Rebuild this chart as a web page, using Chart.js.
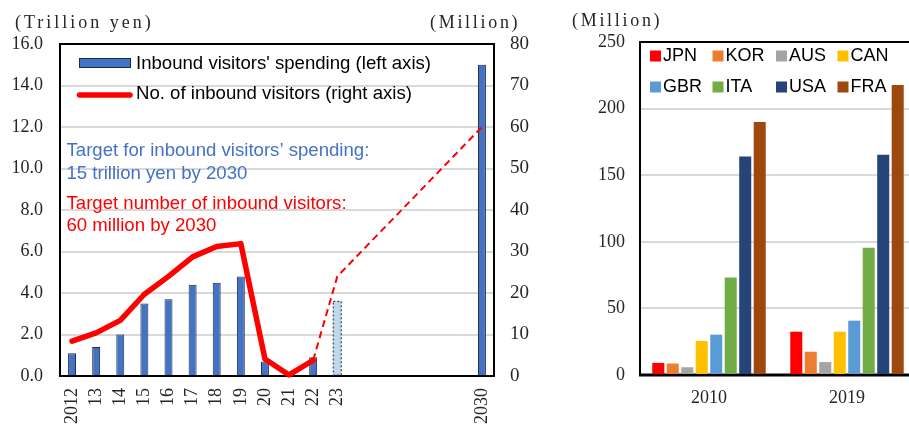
<!DOCTYPE html>
<html>
<head>
<meta charset="utf-8">
<script src="https://cdn.jsdelivr.net/npm/chart.js@4.4.1/dist/chart.umd.min.js"></script>
<style>
  html, body { margin: 0; padding: 0; background: #fff; }
  #page { position: absolute; left: 0; top: 0; width: 909px; height: 428px; overflow: hidden; background: #fff; }
  #spendCanvas { position: absolute; left: 0; top: 0; }
  #arrBox { position: absolute; left: 560px; top: 0; width: 349px; height: 428px; overflow: hidden; }
  #arrCanvas { position: absolute; left: 0; top: 0; }
  .unit { position: absolute; font: 18px "Liberation Serif", serif; color: #262626; line-height: 20px; white-space: nowrap; }
</style>
</head>
<body>
<div id="page">
  <canvas id="spendCanvas" width="540" height="428"></canvas>
  <div id="arrBox"><canvas id="arrCanvas" width="380" height="428"></canvas></div>
  <div class="unit" style="left:15px; top:12px; letter-spacing:3px;">(Trillion yen)</div>
  <div class="unit" style="left:430px; top:12px; letter-spacing:2.7px;">(Million)</div>
  <div class="unit" style="left:572px; top:10px; letter-spacing:2.7px;">(Million)</div>
</div>
<script>
// ---- Inbound tourism to Japan (left panel) ----
const yearLabels = ['2012', '13', '14', '15', '16', '17', '18', '19', '20', '21', '22', '23', '', '', '', '', '', '2030'];
// Inbound visitors' spending, trillion yen (2023 = estimate, 2030 = target)
const spendingTrillionYen = [1.1, 1.4, 2.0, 3.5, 3.7, 4.4, 4.5, 4.8, 0.7, 0.1, 0.9, 3.6, null, null, null, null, null, 15.0];
// Number of inbound visitors, million (actual)
const visitorsMillion = [8.4, 10.4, 13.4, 19.7, 24.0, 28.7, 31.2, 31.9, 4.1, 0.25, 3.8, null, null, null, null, null, null, null];
// Number of inbound visitors, million (2022 -> 2023 -> 2030 target path)
const visitorsOutlookMillion = [null, null, null, null, null, null, null, null, null, null, 3.8, 24.0, null, null, null, null, null, 60];
const estimateYearLabel = '23';
const spendingAxis = { min: 0, max: 16, step: 2 };
const visitorAxis = { min: 0, max: 80, step: 10 };

// ---- International tourist arrivals by country (right panel) ----
const countries = ['JPN', 'KOR', 'AUS', 'CAN', 'GBR', 'ITA', 'USA', 'FRA'];
const periods = ['2010', '2019'];
const arrivals2010 = [9.1, 8.6, 5.8, 25.5, 30.3, 73.2, 164.0, 190.0];
const arrivals2019 = [32.5, 17.5, 9.7, 32.5, 40.8, 95.5, 165.3, 217.8];
const countryColors = ['#FF0000', '#ED7D31', '#A5A5A5', '#FFC000', '#5B9BD5', '#70AD47', '#264478', '#9E480E'];
const arrivalsAxis = { min: 0, max: 250, step: 50 };

Chart.defaults.font.family = '"Liberation Serif", serif';
Chart.defaults.color = '#262626';
Chart.defaults.animation = false;

const tickFont = { family: '"Liberation Serif", serif', size: 18 };
const noteFont = '18.6px "Liberation Sans", Arial, sans-serif';
const legendFont = '18px "Liberation Sans", Arial, sans-serif';
const gridColor = '#D9D9D9';

// Closed frame around the plot area, above grid lines and below the marks
const boxFrame = {
  id: 'boxFrame',
  beforeDatasetsDraw(chart) {
    const { ctx, chartArea: a } = chart;
    ctx.save();
    ctx.strokeStyle = '#000';
    ctx.lineWidth = 2;
    ctx.strokeRect(a.left, a.top, a.right - a.left, a.bottom - a.top);
    ctx.restore();
  }
};

// Open frame: top, left and bottom edges only
const openFrame = {
  id: 'openFrame',
  beforeDatasetsDraw(chart) {
    const { ctx, chartArea: a } = chart;
    ctx.save();
    ctx.strokeStyle = '#000';
    ctx.lineWidth = 2;
    ctx.beginPath();
    ctx.moveTo(a.right, a.top);
    ctx.lineTo(a.left, a.top);
    ctx.lineTo(a.left, a.bottom);
    ctx.stroke();
    ctx.lineWidth = 3;
    ctx.beginPath();
    ctx.moveTo(a.left - 1, a.bottom);
    ctx.lineTo(a.right, a.bottom);
    ctx.stroke();
    ctx.restore();
  }
};

// Dotted outline for the estimated-year bar
const estimateOutline = {
  id: 'estimateOutline',
  afterDatasetDraw(chart, args) {
    if (args.index !== 0) return;
    const idx = chart.data.labels.indexOf(estimateYearLabel);
    const el = args.meta.data[idx];
    if (!el) return;
    const { x, y, base, width } = el.getProps(['x', 'y', 'base', 'width'], true);
    const ctx = chart.ctx;
    ctx.save();
    ctx.strokeStyle = '#404040';
    ctx.lineWidth = 1.2;
    ctx.setLineDash([2, 2]);
    ctx.strokeRect(x - width / 2, y, width, base - y);
    ctx.restore();
  }
};

// Legend and target notes inside the spending plot
const spendNotes = {
  id: 'spendNotes',
  afterDraw(chart) {
    const { ctx, chartArea: a } = chart;
    const L = a.left;
    ctx.save();
    ctx.font = noteFont;
    ctx.textBaseline = 'middle';
    ctx.textAlign = 'left';
    // legend: bars
    ctx.fillStyle = '#4472C4';
    ctx.strokeStyle = '#1F2A44';
    ctx.lineWidth = 1;
    ctx.fillRect(L + 19.5, 58.5, 51, 9);
    ctx.strokeRect(L + 19.5, 58.5, 51, 9);
    ctx.fillStyle = '#000';
    ctx.fillText("Inbound visitors' spending (left axis)", L + 76, 63.5);
    // legend: line
    ctx.strokeStyle = '#FF0000';
    ctx.lineWidth = 5.5;
    ctx.lineCap = 'round';
    ctx.beginPath();
    ctx.moveTo(L + 19.5, 95);
    ctx.lineTo(L + 70, 95);
    ctx.stroke();
    ctx.fillText('No. of inbound visitors (right axis)', L + 76, 94);
    // targets
    ctx.fillStyle = '#4472C4';
    ctx.fillText('Target for inbound visitors\u2019 spending:', L + 6.5, 150.5);
    ctx.fillText('15 trillion yen by 2030', L + 6.5, 173.5);
    ctx.fillStyle = '#FF0000';
    ctx.fillText('Target number of inbound visitors:', L + 6.5, 203.5);
    ctx.fillText('60 million by 2030', L + 6.5, 226);
    ctx.restore();
  }
};

new Chart(document.getElementById('spendCanvas'), {
  data: {
    labels: yearLabels,
    datasets: [
      {
        type: 'bar',
        label: "Inbound visitors' spending (left axis)",
        data: spendingTrillionYen,
        yAxisID: 'y',
        order: 2,
        backgroundColor: (c) => yearLabels[c.dataIndex] === estimateYearLabel ? '#BDD7EE' : '#4472C4',
        borderColor: '#1F2A44',
        borderWidth: (c) => yearLabels[c.dataIndex] === estimateYearLabel ? 0 : 1,
        borderSkipped: 'bottom',
        barPercentage: 0.33,
        categoryPercentage: 1
      },
      {
        type: 'line',
        label: 'No. of inbound visitors (right axis)',
        data: visitorsMillion,
        yAxisID: 'y1',
        order: 1,
        borderColor: '#FF0000',
        borderWidth: 5.5,
        borderCapStyle: 'round',
        borderJoinStyle: 'round',
        pointRadius: 0,
        tension: 0,
        clip: false
      },
      {
        type: 'line',
        label: 'No. of inbound visitors, target path',
        data: visitorsOutlookMillion,
        yAxisID: 'y1',
        order: 0,
        borderColor: '#FF0000',
        borderWidth: 2,
        borderDash: [7, 4.5],
        pointRadius: 0,
        tension: 0,
        spanGaps: true,
        clip: false
      }
    ]
  },
  options: {
    responsive: false,
    layout: { padding: { top: 44, left: 0, right: 0, bottom: 0 } },
    plugins: { legend: { display: false }, tooltip: { enabled: false } },
    scales: {
      x: {
        offset: true,
        grid: { display: false, drawTicks: false },
        border: { display: false },
        ticks: { autoSkip: false, minRotation: 90, maxRotation: 90, padding: 12, font: tickFont, color: '#262626' },
        afterFit(s) { s.height = 52; }
      },
      y: {
        position: 'left',
        min: spendingAxis.min,
        max: spendingAxis.max,
        ticks: { stepSize: spendingAxis.step, callback: (v) => v.toFixed(1), padding: 17, font: tickFont, color: '#262626' },
        grid: {
          color: (c) => (c.tick && c.tick.value > spendingAxis.min && c.tick.value < spendingAxis.max) ? gridColor : 'rgba(0,0,0,0)',
          lineWidth: 2,
          drawTicks: false
        },
        border: { display: false },
        afterFit(s) { s.width = 60; }
      },
      y1: {
        position: 'right',
        min: visitorAxis.min,
        max: visitorAxis.max,
        ticks: { stepSize: visitorAxis.step, padding: 16, font: { family: tickFont.family, size: 19 }, color: '#262626' },
        grid: { display: false, drawTicks: false },
        border: { display: false },
        afterFit(s) { s.width = 46; }
      }
    }
  },
  plugins: [boxFrame, estimateOutline, spendNotes]
});

// Legend for the country panel: two rows of four
const countryLegend = {
  id: 'countryLegend',
  afterDraw(chart) {
    const { ctx, chartArea: a } = chart;
    const cols = [10, 72.5, 136, 197.5];
    const rows = [56, 87];
    ctx.save();
    ctx.font = legendFont;
    ctx.textBaseline = 'middle';
    ctx.textAlign = 'left';
    chart.data.datasets.forEach((ds, i) => {
      const x = a.left + cols[i % 4];
      const y = rows[Math.floor(i / 4)];
      ctx.fillStyle = ds.backgroundColor;
      ctx.fillRect(x, y - 5.5, 11, 11);
      ctx.fillStyle = '#000';
      ctx.fillText(ds.label, x + 13, y + 0.5);
    });
    ctx.restore();
  }
};

new Chart(document.getElementById('arrCanvas'), {
  type: 'bar',
  data: {
    labels: periods,
    datasets: countries.map((name, i) => ({
      label: name,
      data: [arrivals2010[i], arrivals2019[i]],
      backgroundColor: countryColors[i],
      borderWidth: 0,
      barPercentage: 0.83,
      categoryPercentage: 0.84
    }))
  },
  options: {
    responsive: false,
    layout: { padding: { top: 42, left: 0, right: 24, bottom: 0 } },
    plugins: { legend: { display: false }, tooltip: { enabled: false } },
    scales: {
      x: {
        grid: { display: false, drawTicks: false },
        border: { display: false },
        ticks: { padding: 12, font: tickFont, color: '#262626' },
        afterFit(s) { s.height = 53; }
      },
      y: {
        min: arrivalsAxis.min,
        max: arrivalsAxis.max,
        ticks: { stepSize: arrivalsAxis.step, padding: 15, font: tickFont, color: '#262626' },
        grid: {
          color: (c) => (c.tick && c.tick.value > arrivalsAxis.min && c.tick.value < arrivalsAxis.max) ? gridColor : 'rgba(0,0,0,0)',
          lineWidth: 2,
          drawTicks: false
        },
        border: { display: false },
        afterFit(s) { s.width = 80; }
      }
    }
  },
  plugins: [openFrame, countryLegend]
});
</script>
</body>
</html>
